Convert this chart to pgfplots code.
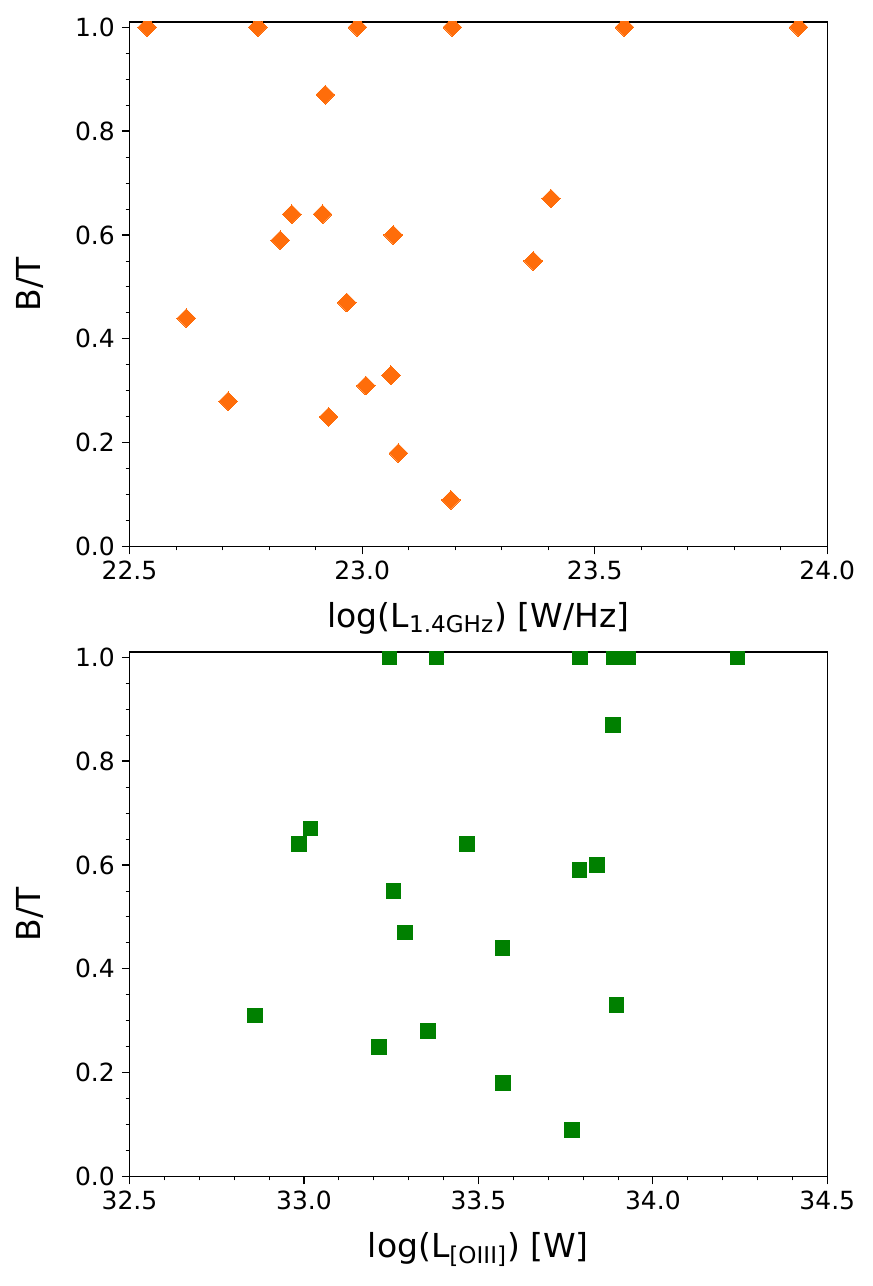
\documentclass[border=0pt]{standalone}
\usepackage{fontspec}
\setmainfont{DejaVu Sans}
\usepackage{pgfplots}
\pgfplotsset{compat=1.18}
\definecolor{myorange}{HTML}{FF6D0A}
\definecolor{mygreen}{HTML}{008000}
\pgfplotsset{
  mystyle/.style={
    scale only axis, width=348.9pt, height=262.35pt, anchor=south west,
    ymin=0, ymax=1.01,
    ytick={0,0.2,0.4,0.6,0.8,1.0}, minor y tick num=3,
    minor x tick num=4,
    tick align=outside, xtick pos=left, ytick pos=left,
    major tick length=3.8pt, minor tick length=1.9pt,
    axis line style={line width=0.6pt},
    every tick/.append style={black, line width=0.6pt},
    every minor tick/.append style={black, line width=0.45pt},
    /pgf/number format/fixed, /pgf/number format/fixed zerofill,
    /pgf/number format/precision=1, /pgf/number format/assume math mode=true,
    tick label style={font=\fontsize{12.5}{15}\selectfont},
    every axis y label/.style={at={(axis description cs:-0.143,0.5)}, rotate=90, anchor=center, font=\fontsize{16.5}{19}\selectfont},
    every axis x label/.style={at={(axis description cs:0.5,-0.154)}, anchor=base, font=\fontsize{16.5}{19}\selectfont},
    clip marker paths=true,
  }
}
\begin{document}
\begin{tikzpicture}
\path[use as bounding box] (0pt,0pt) rectangle (436.5pt,643pt);
\begin{axis}[mystyle, at={(64.75pt,369.65pt)},
  xmin=22.5, xmax=24.0, xtick={22.5,23.0,23.5,24.0},
  xlabel={log(L\textsubscript{1.4GHz}) [W/Hz]}, ylabel={B/T}]
\addplot[only marks, mark=square*, mark size=3.3pt, color=myorange,
  mark options={rotate=45, fill=myorange, draw=myorange, line width=0pt}]
coordinates {
(22.538,1.0) (22.776,1.0) (22.990,1.0) (23.194,1.0) (23.564,1.0) (23.938,1.0)
(22.921,0.87) (22.849,0.64) (22.824,0.59) (22.915,0.64) (23.067,0.60)
(22.967,0.47) (22.622,0.44) (22.712,0.28) (22.928,0.25) (23.008,0.31)
(23.062,0.33) (23.078,0.18) (23.191,0.09) (23.406,0.67) (23.368,0.55)
};
\end{axis}
\begin{axis}[mystyle, at={(64.75pt,54.65pt)},
  xmin=32.5, xmax=34.5, xtick={32.5,33.0,33.5,34.0,34.5},
  xlabel={log(L\textsubscript{[OIII]}) [W]}, ylabel={B/T}]
\addplot[only marks, mark=square*, mark size=3.67pt, color=mygreen,
  mark options={fill=mygreen, draw=mygreen, line width=0pt}]
coordinates {
(33.245,1.0) (33.380,1.0) (33.791,1.0) (33.887,1.0) (33.929,1.0) (34.243,1.0)
(33.885,0.87) (32.985,0.64) (33.019,0.67) (33.257,0.55) (33.289,0.47)
(33.467,0.64) (33.790,0.59) (33.840,0.60) (33.569,0.44) (32.859,0.31)
(33.216,0.25) (33.355,0.28) (33.896,0.33) (33.571,0.18) (33.768,0.09)
};
\end{axis}
\end{tikzpicture}
\end{document}
